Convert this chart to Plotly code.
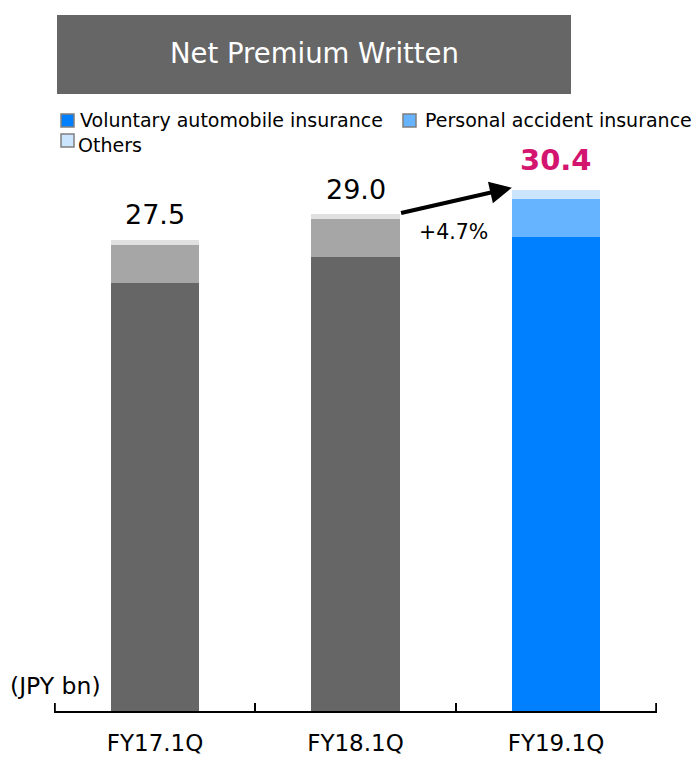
import plotly.graph_objects as go

# ---- data ----
categories = ["FY17.1Q", "FY18.1Q", "FY19.1Q"]
auto_values = [25.0, 26.5, 27.7]       # Voluntary automobile insurance
pa_values = [2.2, 2.2, 2.2]            # Personal accident insurance
other_values = [0.3, 0.3, 0.5]         # Others
totals = [27.5, 29.0, 30.4]
total_labels = ["27.5", "29.0", "30.4"]
growth_label = "+4.7%"
series_names = ["Voluntary automobile insurance", "Personal accident insurance", "Others"]
title_text = "Net Premium Written"
unit_text = "(JPY bn)"

# ---- styles ----
FONT = "DejaVu Sans"
gray_colors = ["#666666", "#A6A6A6", "#E0E0E0"]
blue_colors = ["#0080FF", "#66B3FF", "#CCE5FF"]
HIGHLIGHT = "#D4156F"
BAR_W = 0.44

W, H = 694, 757
ML, MR, MT, MB = 54, 37, 100, 46
PW, PH = W - ML - MR, H - MT - MB
PX_PER_UNIT = 17.13
YMAX = PH / PX_PER_UNIT
XPAD = 0.004


def px(x):
    return (x - ML) / PW


def py(y):
    return (H - MB - y) / PH


fig = go.Figure()
series = [auto_values, pa_values, other_values]
for vals, col in zip(series, gray_colors):
    fig.add_trace(go.Bar(x=categories[:2], y=vals[:2], marker=dict(color=col, line=dict(width=0)),
                         width=BAR_W, showlegend=False, hoverinfo="skip"))
for vals, col, name in zip(series, blue_colors, series_names):
    fig.add_trace(go.Bar(x=categories[2:], y=vals[2:], name=name, marker=dict(color=col, line=dict(width=0)),
                         width=BAR_W, showlegend=False, hoverinfo="skip"))

shapes = []
annotations = []

# title box
shapes.append(dict(type="rect", xref="paper", yref="paper", x0=px(57), x1=px(571), y0=py(94), y1=py(15),
                   fillcolor="#666666", line=dict(width=0), layer="above"))
annotations.append(dict(xref="paper", yref="paper", x=px(314), y=py(53), text=title_text, showarrow=False,
                        xanchor="center", yanchor="middle", font=dict(family=FONT, size=27.5, color="white")))

# custom legend
legend_items = [
    (61, 114, 80, 120, series_names[0], blue_colors[0]),
    (403, 114, 425, 120, series_names[1], blue_colors[1]),
    (61, 134, 78, 145, series_names[2], blue_colors[2]),
]
for sx, sy, tx, ty, name, col in legend_items:
    shapes.append(dict(type="rect", xref="paper", yref="paper", x0=px(sx), x1=px(sx + 13),
                       y0=py(sy + 13), y1=py(sy), fillcolor=col, line=dict(color="#7F7F7F", width=1.5)))
    annotations.append(dict(xref="paper", yref="paper", x=px(tx), y=py(ty), text=name, showarrow=False,
                            xanchor="left", yanchor="middle", xshift=-2,
                            font=dict(family=FONT, size=19, color="#000000")))

# total labels
for i, (cat, tot, lab) in enumerate(zip(categories, totals, total_labels)):
    last = i == len(categories) - 1
    annotations.append(dict(x=cat, y=tot, text=f"<b>{lab}</b>" if last else lab, showarrow=False,
                            xanchor="center", yanchor="middle", yshift=30 if last else 25,
                            font=dict(family=FONT, size=29 if last else 27,
                                      color=HIGHLIGHT if last else "#000000")))

# growth arrow from bar 2 top-right to bar 3 top-left
annotations.append(dict(x=2 - BAR_W / 2, y=totals[2] + 0.15, xref="x", yref="y",
                        ax=1 + BAR_W / 2, ay=totals[1] + 0.05, axref="x", ayref="y",
                        text="", showarrow=True, arrowhead=2, arrowsize=1.1, arrowwidth=4,
                        arrowcolor="#000000"))
annotations.append(dict(x=1.49, y=totals[1], text=growth_label, showarrow=False, xanchor="center",
                        yanchor="middle", yshift=-18, font=dict(family=FONT, size=20.5, color="#000000")))

# unit label
annotations.append(dict(xref="paper", yref="paper", x=px(8), y=py(686), text=unit_text, showarrow=False,
                        xanchor="left", yanchor="middle", font=dict(family=FONT, size=23.5, color="#000000")))

# end ticks of the category axis
for xb in (-0.5, len(categories) - 0.5):
    shapes.append(dict(type="line", xref="x", yref="paper", x0=xb, x1=xb, y0=0, y1=8 / PH,
                       line=dict(color="#000000", width=2)))

fig.update_layout(
    width=W, height=H, autosize=False,
    margin=dict(l=ML, r=MR, t=MT, b=MB, pad=0, autoexpand=False),
    barmode="stack",
    plot_bgcolor="white", paper_bgcolor="white",
    showlegend=False,
    shapes=shapes,
    annotations=annotations,
    font=dict(family=FONT, color="#000000"),
    xaxis=dict(type="category", categoryorder="array", categoryarray=categories,
               range=[-0.5 - XPAD, 2.5 + XPAD], showline=True, linecolor="#000000", linewidth=2,
               ticks="inside", tickson="boundaries", ticklen=8, tickwidth=2, tickcolor="#000000",
               showgrid=False, zeroline=False, ticklabelstandoff=10, automargin=False,
               tickfont=dict(family=FONT, size=23, color="#000000"), fixedrange=True),
    yaxis=dict(range=[0, YMAX], visible=False, showgrid=False, zeroline=False, fixedrange=True,
               automargin=False),
)

post = """
document.documentElement.style.margin='0';
document.body.style.margin='0';
document.body.style.padding='0';
document.documentElement.style.overflow='hidden';
var gd=document.getElementById('{plot_id}');
gd.style.width='694px';gd.style.height='757px';
if (gd.parentElement) {gd.parentElement.style.width='694px';gd.parentElement.style.height='757px';}
Plotly.relayout(gd,{width:694,height:757});
"""

fig.write_html("out.html", config={"responsive": False, "displayModeBar": False}, post_script=post)
